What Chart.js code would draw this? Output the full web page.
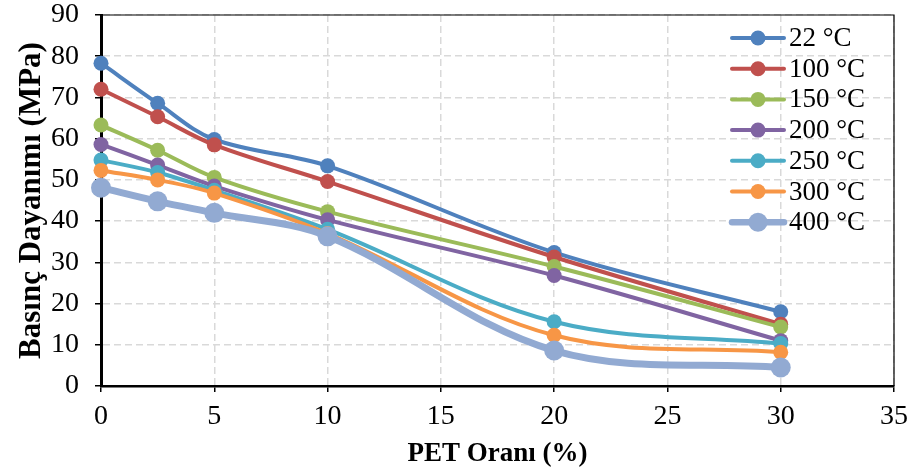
<!DOCTYPE html>
<html>
<head>
<meta charset="utf-8">
<script src="https://cdn.jsdelivr.net/npm/chart.js@4.4.0/dist/chart.umd.min.js"></script>
<style>
  html, body { margin: 0; padding: 0; background: #fff; }
  #wrap { width: 915px; height: 472px; }
</style>
</head>
<body>
<div id="wrap"><canvas id="chart"></canvas></div>
<script>
// PET ratio (%) on the x axis
const petRatio = [0, 2.5, 5, 10, 20, 30];

const seriesNames = ['22 °C', '100 °C', '150 °C', '200 °C', '250 °C', '300 °C', '400 °C'];

// compressive strength (MPa)
const t22  = [78.3, 68.6, 59.8, 53.4, 32.4, 18.0];
const t100 = [72.0, 65.3, 58.5, 49.6, 31.3, 15.0];
const t150 = [63.3, 57.2, 50.6, 42.3, 29.0, 14.3];
const t200 = [58.6, 53.6, 48.5, 40.3, 26.8, 11.0];
const t250 = [54.8, 51.8, 47.5, 38.0, 15.6, 10.3];
const t300 = [52.3, 50.0, 46.8, 37.0, 12.3, 8.2];
const t400 = [48.1, 44.8, 42.0, 36.3, 8.6, 4.5];

const xTicks = [0, 5, 10, 15, 20, 25, 30, 35];
const yTicks = [0, 10, 20, 30, 40, 50, 60, 70, 80, 90];

const allSeries = [t22, t100, t150, t200, t250, t300, t400];
const colors = ['#4F81BD', '#C0504D', '#9BBB59', '#8064A2', '#4BACC6', '#F79646', '#92AAD2'];

const FONT = "'Liberation Serif', 'Times New Roman', serif";

const datasets = allSeries.map((vals, i) => {
    const big = i === 6;
    return {
        label: seriesNames[i],
        data: vals.map((v, k) => ({ x: petRatio[k], y: v })),
        borderColor: colors[i],
        backgroundColor: colors[i],
        pointBackgroundColor: colors[i],
        pointBorderWidth: 0,
        pointRadius: big ? 10 : 7.5,
        borderWidth: big ? 7 : 4,
        tension: 0.35,
        clip: false,
        order: 6 - i
    };
});

// top and right frame lines of the plot area
const framePlugin = {
    id: 'frame',
    beforeDatasetsDraw(chart) {
        const a = chart.chartArea, ctx = chart.ctx;
        ctx.save();
        ctx.strokeStyle = '#000';
        ctx.lineWidth = 1.2;
        ctx.beginPath();
        ctx.moveTo(a.left, a.top);
        ctx.lineTo(a.right, a.top);
        ctx.lineTo(a.right, a.bottom);
        ctx.stroke();
        ctx.restore();
    }
};

// legend inside the plot, line + marker like Excel
const legendPlugin = {
    id: 'innerLegend',
    afterDraw(chart) {
        const a = chart.chartArea, ctx = chart.ctx;
        const x0 = a.right - 162, y0 = a.top + 23, step = 30.7;
        ctx.save();
        ctx.font = '27px ' + FONT;
        ctx.textBaseline = 'middle';
        ctx.textAlign = 'left';
        chart.data.datasets.forEach((ds, i) => {
            const y = y0 + i * step;
            ctx.strokeStyle = ds.borderColor;
            ctx.lineWidth = i === 6 ? 6.5 : 4;
            ctx.lineCap = 'round';
            ctx.beginPath();
            ctx.moveTo(x0, y);
            ctx.lineTo(x0 + 52, y);
            ctx.stroke();
            ctx.fillStyle = ds.borderColor;
            ctx.beginPath();
            ctx.arc(x0 + 26, y, i === 6 ? 9.5 : 7.5, 0, Math.PI * 2);
            ctx.fill();
            ctx.fillStyle = '#000';
            ctx.fillText(ds.label, x0 + 57, y + 1);
        });
        ctx.restore();
    }
};

new Chart(document.getElementById('chart'), {
    type: 'line',
    data: { datasets },
    plugins: [framePlugin, legendPlugin],
    options: {
        responsive: true,
        maintainAspectRatio: false,
        animation: false,
        events: [],
        layout: { padding: { left: 0, right: 21, top: 15, bottom: 0 } },
        plugins: { legend: { display: false }, tooltip: { enabled: false } },
        scales: {
            x: {
                type: 'linear',
                min: 0, max: 35,
                afterFit(s) { s.height = 86; s.paddingLeft = 0; s.paddingRight = 0; },
                afterBuildTicks(s) { s.ticks = xTicks.map(v => ({ value: v })); },
                ticks: { font: { family: FONT, size: 28 }, color: '#000', padding: 8, maxRotation: 0 },
                grid: { color: '#d9d9d9', lineWidth: 1.5, tickLength: 6, tickColor: '#000', tickWidth: 1.5 },
                border: { display: true, color: '#000', width: 2.5, dash: [7, 4] },
                title: { display: true, text: 'PET Oranı (%)', color: '#000',
                         font: { family: FONT, size: 27, weight: 'bold' }, padding: { top: 0, bottom: 2 } }
            },
            y: {
                min: 0, max: 90,
                afterFit(s) { s.width = 101; s.paddingTop = 0; s.paddingBottom = 0; },
                afterBuildTicks(s) { s.ticks = yTicks.map(v => ({ value: v })); },
                ticks: { font: { family: FONT, size: 28 }, color: '#000', padding: 16 },
                grid: { color: '#d9d9d9', lineWidth: 1.5, tickLength: 6, tickColor: '#000', tickWidth: 1.5 },
                border: { display: true, color: '#000', width: 3, dash: [7, 4] },
                title: { display: true, text: 'Basınç Dayanımı (MPa)', color: '#000',
                         font: { family: FONT, size: 31, weight: 'bold' }, padding: { top: 13, bottom: 0 } }
            }
        }
    }
});
</script>
</body>
</html>
